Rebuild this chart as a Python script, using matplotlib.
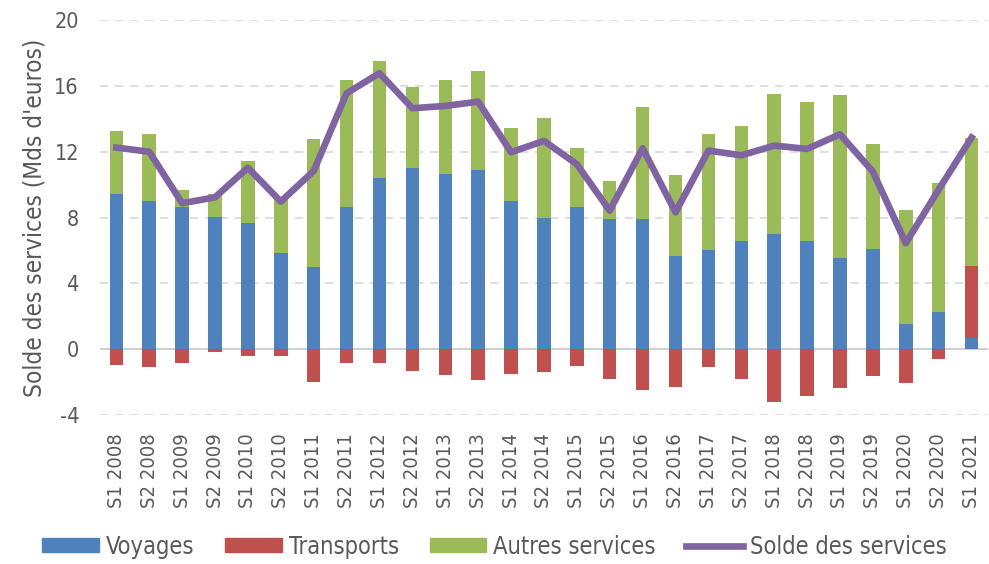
import matplotlib
matplotlib.use("Agg")
import matplotlib.pyplot as plt
import numpy as np
from matplotlib.patches import Patch
from matplotlib.lines import Line2D

categories = ["S1 2008", "S2 2008", "S1 2009", "S2 2009", "S1 2010", "S2 2010",
              "S1 2011", "S2 2011", "S1 2012", "S2 2012", "S1 2013", "S2 2013",
              "S1 2014", "S2 2014", "S1 2015", "S2 2015", "S1 2016", "S2 2016",
              "S1 2017", "S2 2017", "S1 2018", "S2 2018", "S1 2019", "S2 2019",
              "S1 2020", "S2 2020", "S1 2021"]
voyages = [9.43, 9.03, 8.63, 8.04, 7.65, 5.85, 5.02, 8.63, 10.43, 11.0, 10.67, 10.91,
           9.03, 7.98, 8.63, 7.9, 7.9, 5.69, 6.01, 6.58, 6.99, 6.58, 5.53, 6.09,
           1.54, 2.27, 0.7]
transports = [-0.97, -1.08, -0.83, -0.18, -0.43, -0.43, -1.97, -0.83, -0.83, -1.32,
              -1.56, -1.88, -1.48, -1.4, -0.99, -1.8, -2.45, -2.29, -1.08, -1.8,
              -3.18, -2.86, -2.37, -1.64, -2.05, -0.59, 4.34]
autres = [3.83, 4.07, 1.05, 1.39, 3.81, 3.42, 7.76, 7.73, 7.09, 4.96, 5.69, 6.02,
          4.4, 6.09, 3.58, 2.34, 6.82, 4.88, 7.09, 7.01, 8.54, 8.46, 9.92, 6.36,
          6.91, 7.81, 7.82]
solde = [12.25, 12.0, 8.87, 9.23, 11.03, 8.97, 10.83, 15.55, 16.77, 14.64, 14.78,
         15.04, 11.97, 12.66, 11.24, 8.42, 12.21, 8.32, 12.07, 11.78, 12.37, 12.17,
         13.06, 10.79, 6.44, 9.7, 12.86]
yticks = [-4, 0, 4, 8, 12, 16, 20]

c_voy = "#4F81BD"
c_tra = "#C0504D"
c_aut = "#9BBB59"
c_sol = "#8064A2"
c_txt = "#595959"

plt.rcParams['font.family'] = ['DejaVu Sans']
plt.rcParams['font.stretch'] = 'condensed'

fig = plt.figure(figsize=(9.89, 5.64), dpi=100)
ax = fig.add_axes([0.101, 0.264, 0.898, 0.7005])

x = np.arange(len(categories))
v = np.array(voyages)
t = np.array(transports)
a = np.array(autres)
w = 0.41

ax.bar(x, v, width=w, color=c_voy, zorder=3)
t_bottom = np.where(t > 0, v, 0)
ax.bar(x, t, width=w, bottom=t_bottom, color=c_tra, zorder=3)
a_bottom = v + np.where(t > 0, t, 0)
ax.bar(x, a, width=w, bottom=a_bottom, color=c_aut, zorder=3)
ax.plot(x, solde, color=c_sol, linewidth=4.8, zorder=4, solid_joinstyle='round')

ax.set_ylim(-4, 20)
ax.set_xlim(-0.5, len(categories) - 0.5)
ax.set_yticks(yticks)
ax.set_yticklabels([str(y) for y in yticks], fontsize=15.5, color=c_txt)
ax.set_xticks(x)
ax.set_xticklabels(categories, rotation=90, fontsize=14.5, color=c_txt)
ax.tick_params(axis='both', length=0)
ax.tick_params(axis='x', pad=13)
ax.tick_params(axis='y', pad=15)
for s in ax.spines.values():
    s.set_visible(False)
for yv in yticks:
    if yv == 0:
        ax.axhline(0, color="#D0D0D0", linewidth=1.5, zorder=2)
    else:
        ax.axhline(yv, color="#D9D9D9", linewidth=1.2, linestyle=(0, (5, 4)), zorder=1)

ax.set_ylabel("Solde des services (Mds d'euros)", fontsize=17.5, color=c_txt, labelpad=6)

handles = [Patch(color=c_voy), Patch(color=c_tra), Patch(color=c_aut),
           Line2D([0], [0], color=c_sol, linewidth=4.8)]
labels = ["Voyages", "Transports", "Autres services", "Solde des services"]
fig.legend(handles, labels, loc='lower center', bbox_to_anchor=(0.5, -0.028), ncol=4,
           frameon=False, fontsize=17, handlelength=2.4, handleheight=0.55,
           columnspacing=1.3, handletextpad=0.3, labelcolor=c_txt)

fig.savefig("out.png", dpi=100)
